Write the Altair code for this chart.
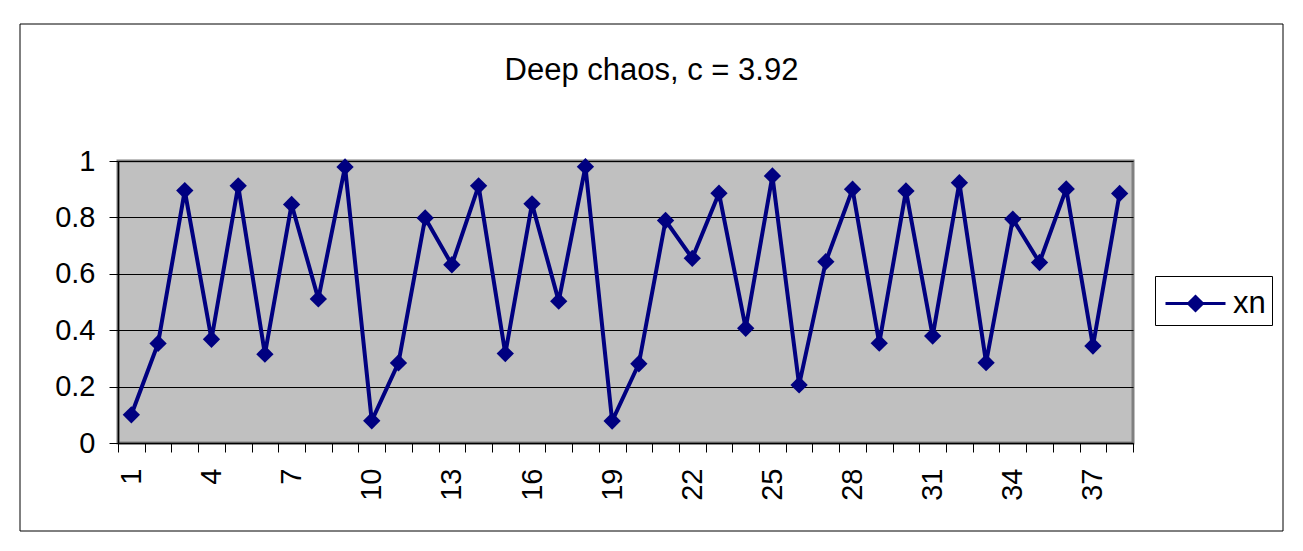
import altair as alt
import pandas as pd

# Iteration index (category axis)
n_values = [1, 2, 3, 4, 5, 6, 7, 8, 9, 10, 11, 12, 13, 14, 15, 16, 17, 18, 19,
            20, 21, 22, 23, 24, 25, 26, 27, 28, 29, 30, 31, 32, 33, 34, 35, 36, 37, 38]
# x_n values
xn_values = [0.100, 0.353, 0.895, 0.368, 0.912, 0.315, 0.846, 0.511, 0.979, 0.079,
             0.284, 0.798, 0.632, 0.912, 0.317, 0.848, 0.503, 0.980, 0.078, 0.281,
             0.789, 0.655, 0.886, 0.407, 0.947, 0.206, 0.643, 0.900, 0.354, 0.894,
             0.379, 0.923, 0.285, 0.794, 0.640, 0.901, 0.344, 0.885]
series_names = ["xn"]
y_ticks = [0, 0.2, 0.4, 0.6, 0.8, 1]
title_text = "Deep chaos, c = 3.92"

FONT = "Liberation Sans"
NAVY = "#000080"

df = pd.DataFrame({"n": n_values, "xn": xn_values, "series": series_names[0]})

x_enc = alt.X(
    "n:O",
    bandPosition=0.5,
    scale=alt.Scale(type="band", paddingInner=0, paddingOuter=0),
    axis=alt.Axis(
        title=None,
        labelAngle=270,
        labelExpr="(datum.value - 1) % 3 == 0 ? datum.label : ''",
        tickBand="extent",
        tickSize=9,
        tickColor="black",
        tickWidth=1,
        domainColor="black",
        domainWidth=1.5,
        labelFont=FONT,
        labelFontSize=29,
        labelColor="black",
        labelPadding=16,
        grid=False,
    ),
)
y_enc = alt.Y(
    "xn:Q",
    scale=alt.Scale(domain=[0, 1], nice=False, zero=True),
    axis=alt.Axis(
        title=None,
        values=y_ticks,
        format="~g",
        tickSize=9,
        tickColor="black",
        domainColor="black",
        domainWidth=1.5,
        labelFont=FONT,
        labelFontSize=29,
        labelColor="black",
        labelPadding=14,
        grid=True,
        gridColor="black",
        gridWidth=1,
        gridOpacity=1,
    ),
)
color_enc = alt.Color(
    "series:N",
    scale=alt.Scale(domain=series_names, range=[NAVY]),
    legend=alt.Legend(
        title=None,
        orient="none",
        legendX=1037,
        legendY=115,
        symbolType="M-1.5,0L1.5,0M-0.35,0L0,-0.35L0.35,0L0,0.35Z",
        symbolSize=1600,
        symbolStrokeWidth=3,
        symbolFillColor=NAVY,
        symbolStrokeColor=NAVY,
        symbolOffset=13,
        labelFont=FONT,
        labelFontSize=31,
        labelColor="black",
        labelOffset=16,
        strokeColor="black",
        fillColor="white",
        padding=6,
    ),
)

frame = alt.Chart(pd.DataFrame({"f": [0]})).mark_rect(
    fillOpacity=0, stroke="black", strokeWidth=1
).encode(
    x=alt.value(-98), x2=alt.value(1165), y=alt.value(-137), y2=alt.value(370)
)

line = alt.Chart(df).mark_line(strokeWidth=4).encode(x=x_enc, y=y_enc, color=color_enc)
points = alt.Chart(df).mark_point(
    shape="diamond", filled=True, size=300, opacity=1
).encode(x=x_enc, y=y_enc, color=color_enc)

chart = alt.layer(frame, line, points).properties(
    width=1015,
    height=282,
    background="white",
    title=alt.TitleParams(
        text=title_text,
        font=FONT,
        fontSize=31,
        fontWeight="normal",
        color="black",
        anchor="middle",
        offset=-63,
        dx=26,
    ),
    padding={"left": 110, "top": 153, "right": 160, "bottom": 95},
    autosize=alt.AutoSizeParams(type="none"),
).configure_view(
    fill="#C0C0C0", stroke="#808080", strokeWidth=3
)

chart.save("out.html", embed_options={"renderer": "svg", "actions": False})
